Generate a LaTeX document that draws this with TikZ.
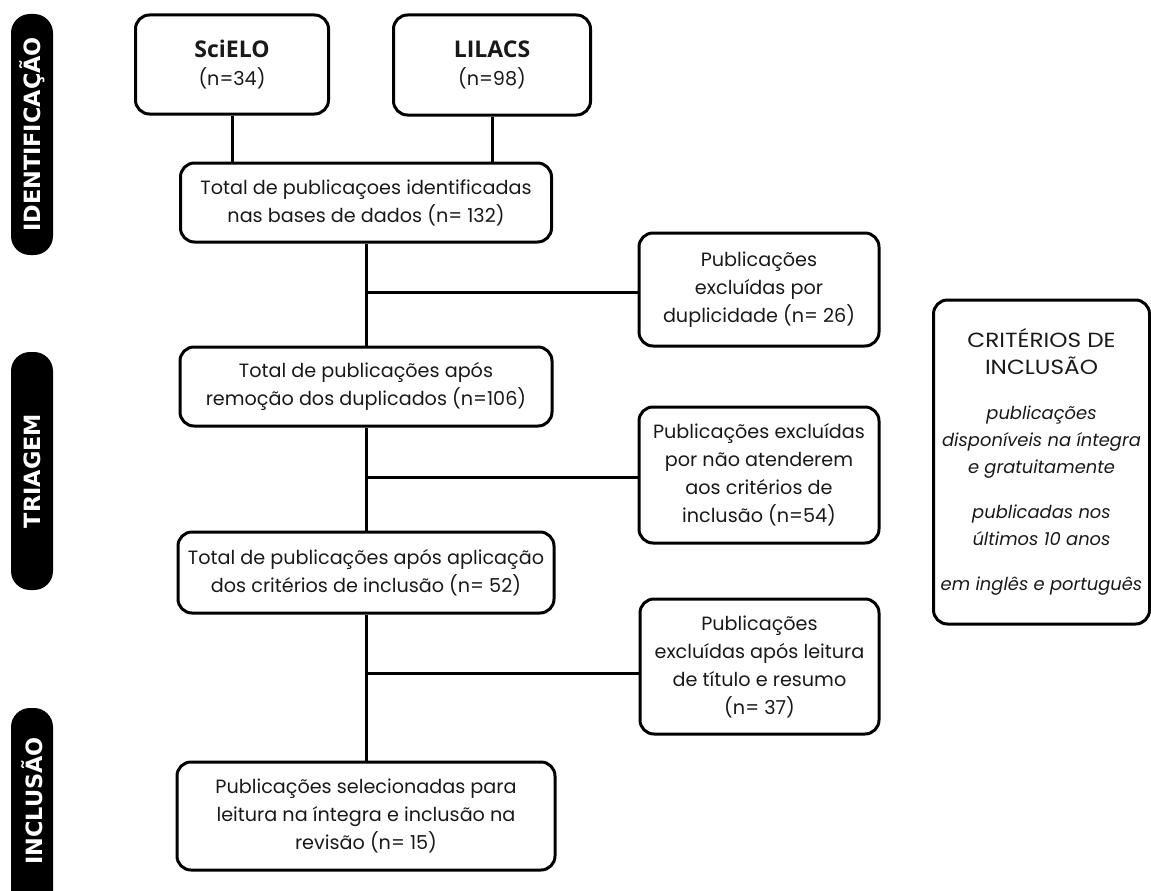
\documentclass[tikz,border=0pt]{standalone}
\usepackage{fontspec}
\usepackage{graphicx}
\setmainfont{Poppins}
\newfontfamily\dbfont{Open Sans}
\newfontfamily\tabfont{DejaVu Sans}
\begin{document}
\begin{tikzpicture}[x=1pt,y=-1pt,
  box/.style={draw=black, line width=3pt, rounded corners=14pt, align=center,
    font=\fontsize{19.2}{28}\selectfont, text=black!90, inner sep=0pt},
  tabnode/.style={fill=black, rounded corners=19pt, text=white,
    font=\tabfont\bfseries\fontsize{22.4}{24}\selectfont, rotate=90, inner sep=0pt, minimum height=42pt},
  tabtext/.style={text=white, font=\tabfont\bfseries\fontsize{22.4}{24}\selectfont, rotate=90, inner sep=0pt},
  link/.style={line width=3pt}]
\useasboundingbox (0,0) rectangle (1151,891);

% phase tabs
\node[tabnode, minimum width=241pt] (tabid) at (32,134.5) {IDENTIFICAÇÃO};
\node[tabnode, minimum width=238pt] (tabtr) at (32,471) {TRIAGEM};
\fill[black] (11,891) [rounded corners=19pt] -- (11,708) -- (53,708) [sharp corners] -- (53,891) -- cycle;
\node[tabtext] (tabin) at (32,801) {INCLUSÃO};

% boxes
\node[box, minimum width=193pt, minimum height=99pt] (scielo) at (232,64.5)
  {{\dbfont\bfseries\fontsize{23}{28}\selectfont SciELO}\\(n=34)};
\node[box, minimum width=197pt, minimum height=100pt] (lilacs) at (492,65)
  {{\dbfont\bfseries\fontsize{23}{28}\selectfont LILACS}\\(n=98)};
\node[box, minimum width=371pt, minimum height=79pt] (total) at (366,202.5)
  {Total de publicaçoes identificadas\\nas bases de dados (n= 132)};
\node[box, minimum width=372pt, minimum height=79pt] (box2) at (366,386.5)
  {Total de publicações após\\remoção dos duplicados (n=106)};
\node[box, minimum width=376pt, minimum height=81pt] (box3) at (366,572.5)
  {Total de publicações após aplicação\\dos critérios de inclusão (n= 52)};
\node[box, minimum width=378pt, minimum height=108pt] (box4) at (366,816)
  {Publicações selecionadas para\\leitura na íntegra e inclusão na\\revisão (n= 15)};

\node[box, minimum width=240pt, minimum height=113pt] (dup) at (759,289.5)
  {Publicações\\excluídas por\\duplicidade (n= 26)};
\node[box, minimum width=240pt, minimum height=136pt] (excl2) at (759,475)
  {Publicações excluídas\\por não atenderem\\aos critérios de\\inclusão (n=54)};
\node[box, minimum width=239pt, minimum height=135pt] (excl3) at (759.5,666.5)
  {Publicações\\excluídas após leitura\\de título e resumo\\(n= 37)};

\node[box, minimum width=216pt, minimum height=324pt, font=\fontsize{17.9}{27}\selectfont] (crit) at (1041.5,462)
  {\scalebox{1.13}[1]{\fontsize{20.5}{27}\selectfont CRITÉRIOS DE}\\\scalebox{1.13}[1]{\fontsize{20.5}{27}\selectfont INCLUSÃO}\\[18pt]\textit{publicações}\\\textit{disponíveis na íntegra}\\\textit{e gratuitamente}\\[18pt]\textit{publicadas nos}\\\textit{últimos 10 anos}\\[18pt]\textit{em inglês e português}};

% connectors
\draw[link] (scielo.south) -- (scielo.south |- total.north);
\draw[link] (lilacs.south) -- (lilacs.south |- total.north);
\draw[link] (total.south) -- (box2.north);
\draw[link] (box2.south) -- (box3.north);
\draw[link] (box3.south) -- (box4.north);
\coordinate (j1) at (366,292);
\coordinate (j2) at (366,477);
\coordinate (j3) at (366,673);
\draw[link] (j1) -- (j1 -| dup.west);
\draw[link] (j2) -- (j2 -| excl2.west);
\draw[link] (j3) -- (j3 -| excl3.west);
\end{tikzpicture}
\end{document}
